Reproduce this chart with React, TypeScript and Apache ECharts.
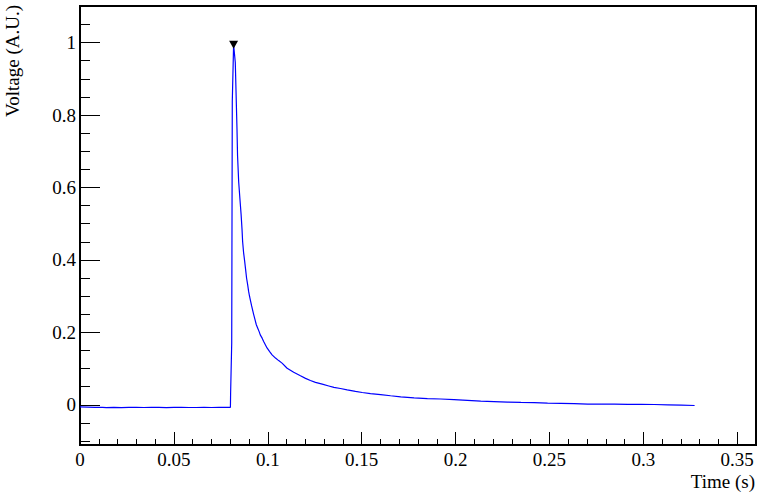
import React, { useEffect, useRef } from "react";
import * as echarts from "echarts";

// Time (s) of each sample
const times = [
  0.0, 0.004, 0.008, 0.012, 0.014, 0.018, 0.022, 0.026, 0.03, 0.034, 0.038, 0.042, 0.046, 0.05,
  0.054, 0.058, 0.062, 0.066, 0.07, 0.074, 0.078, 0.0801,
  0.0802, 0.0808, 0.0811, 0.0818,
  0.0827, 0.0832, 0.0836, 0.0839, 0.0845, 0.0852, 0.0858, 0.0863, 0.0866, 0.0871, 0.0877, 0.0882,
  0.0887, 0.0893, 0.0898, 0.0903, 0.0909, 0.0914, 0.0919, 0.0925, 0.0932, 0.0939, 0.0946, 0.0954,
  0.096, 0.097, 0.0978, 0.0987, 0.0996, 0.101, 0.1023, 0.1041, 0.1058, 0.1076, 0.1103, 0.1138,
  0.1174, 0.1201, 0.1227, 0.1254, 0.129, 0.1325, 0.1352, 0.1387, 0.1423, 0.1467, 0.1503, 0.1547,
  0.1601, 0.1654, 0.1708, 0.1779, 0.185, 0.1921, 0.1992, 0.2063, 0.2134, 0.2205, 0.2277, 0.2348,
  0.2419, 0.249, 0.2561, 0.2632, 0.2704, 0.2775, 0.2846, 0.2917, 0.2988, 0.3059, 0.3131, 0.3202,
  0.3273,
];

// Voltage (A.U.) of each sample
const voltages = [
  -0.006, -0.0065, -0.007, -0.007, -0.008, -0.007, -0.008, -0.007, -0.007, -0.0075, -0.007, -0.007,
  -0.008, -0.007, -0.007, -0.0075, -0.0075, -0.007, -0.0075, -0.007, -0.007, -0.007,
  0.03, 0.171, 0.838, 0.994,
  0.945, 0.843, 0.762, 0.688, 0.616, 0.566, 0.525, 0.483, 0.451, 0.421, 0.396, 0.373,
  0.35, 0.331, 0.313, 0.299, 0.285, 0.273, 0.262, 0.249, 0.235, 0.221, 0.212, 0.202,
  0.193, 0.184, 0.175, 0.166, 0.157, 0.147, 0.138, 0.129, 0.122, 0.115, 0.101, 0.09,
  0.08, 0.073, 0.067, 0.062, 0.057, 0.052, 0.048, 0.045, 0.041, 0.037, 0.034, 0.031,
  0.028, 0.025, 0.022, 0.019, 0.017, 0.016, 0.014, 0.012, 0.01, 0.009, 0.0075, 0.0065,
  0.006, 0.0046, 0.0038, 0.003, 0.002, 0.0018, 0.0016, 0.001, 0.0009, 0.0008, 0.0, -0.001,
  -0.002,
];

// Peak marker
const peakTime = 0.0818;
const peakVoltage = 0.994;

const xMajorTicks = [0, 0.05, 0.1, 0.15, 0.2, 0.25, 0.3, 0.35];
const xTickLabels = ["0", "0.05", "0.1", "0.15", "0.2", "0.25", "0.3", "0.35"];
const xMinorTicks = [
  0.01, 0.02, 0.03, 0.04, 0.06, 0.07, 0.08, 0.09, 0.11, 0.12, 0.13, 0.14, 0.16, 0.17, 0.18, 0.19,
  0.21, 0.22, 0.23, 0.24, 0.26, 0.27, 0.28, 0.29, 0.31, 0.32, 0.33, 0.34, 0.36,
];
const yMajorTicks = [0, 0.2, 0.4, 0.6, 0.8, 1];
const yTickLabels = ["0", "0.2", "0.4", "0.6", "0.8", "1"];
const yMinorTicks = [
  -0.1, -0.05, 0.05, 0.1, 0.15, 0.25, 0.3, 0.35, 0.45, 0.5, 0.55, 0.65, 0.7, 0.75, 0.85, 0.9,
  0.95, 1.05, 1.1,
];

const X_MIN = 0;
const X_MAX = 0.36;
const Y_MIN = -0.111;
const Y_MAX = 1.101;
const FONT = "Liberation Serif";

export default function App() {
  const ref = useRef<HTMLDivElement>(null);

  useEffect(() => {
    if (!ref.current) return;
    const chart = echarts.init(ref.current, undefined, { renderer: "svg" });

    const labelFor = (ticks: number[], labels: string[]) => (v: number) => {
      for (let i = 0; i < ticks.length; i++) {
        if (Math.abs(ticks[i] - v) < 1e-9) return labels[i];
      }
      return "";
    };

    const data = times.map((t, i) => [t, voltages[i]]);

    chart.setOption({
      animation: false,
      backgroundColor: "#ffffff",
      textStyle: { fontFamily: FONT },
      grid: {
        left: 80,
        right: 8,
        top: 6,
        bottom: 50,
        show: true,
        borderColor: "#000000",
        borderWidth: 2,
        backgroundColor: "transparent",
        containLabel: false,
        outerBoundsMode: "none",
      },
      xAxis: [
        {
          type: "value",
          min: X_MIN,
          max: X_MAX,
          position: "bottom",
          axisLine: { show: true, onZero: false, lineStyle: { color: "#000", width: 2 } },
          axisTick: {
            show: true,
            inside: true,
            length: 13,
            customValues: xMajorTicks,
            lineStyle: { color: "#000", width: 1 },
          },
          axisLabel: {
            show: true,
            customValues: xMajorTicks,
            formatter: labelFor(xMajorTicks, xTickLabels),
            fontFamily: FONT,
            fontSize: 19,
            color: "#000",
            margin: 5,
          },
          splitLine: { show: false },
        },
        {
          type: "value",
          min: X_MIN,
          max: X_MAX,
          position: "bottom",
          axisLine: { show: false, onZero: false },
          axisTick: {
            show: true,
            inside: true,
            length: 6,
            customValues: xMinorTicks,
            lineStyle: { color: "#000", width: 1 },
          },
          axisLabel: { show: false },
          splitLine: { show: false },
        },
      ],
      yAxis: [
        {
          type: "value",
          min: Y_MIN,
          max: Y_MAX,
          position: "left",
          axisLine: { show: true, onZero: false, lineStyle: { color: "#000", width: 2 } },
          axisTick: {
            show: true,
            inside: true,
            length: 20,
            customValues: yMajorTicks,
            lineStyle: { color: "#000", width: 1 },
          },
          axisLabel: {
            show: true,
            customValues: yMajorTicks,
            formatter: labelFor(yMajorTicks, yTickLabels),
            fontFamily: FONT,
            fontSize: 19,
            color: "#000",
            margin: 4,
          },
          splitLine: { show: false },
        },
        {
          type: "value",
          min: Y_MIN,
          max: Y_MAX,
          position: "left",
          axisLine: { show: false, onZero: false },
          axisTick: {
            show: true,
            inside: true,
            length: 10,
            customValues: yMinorTicks,
            lineStyle: { color: "#000", width: 1 },
          },
          axisLabel: { show: false },
          splitLine: { show: false },
        },
      ],
      series: [
        {
          type: "line",
          xAxisIndex: 0,
          yAxisIndex: 0,
          data,
          symbol: "none",
          showSymbol: false,
          lineStyle: { color: "#0000ff", width: 1.2 },
          z: 2,
        },
        {
          type: "scatter",
          xAxisIndex: 0,
          yAxisIndex: 0,
          data: [[peakTime, peakVoltage]],
          symbol: "triangle",
          symbolRotate: 180,
          symbolSize: [9, 8],
          itemStyle: { color: "#000000", opacity: 1 },
          z: 3,
        },
      ],
      graphic: [
        {
          type: "text",
          x: 12,
          y: 5,
          rotation: Math.PI / 2,
          style: {
            text: "Voltage (A.U.)",
            fontFamily: FONT,
            fontSize: 19,
            fill: "#000",
            align: "right",
            verticalAlign: "middle",
          },
        },
        {
          type: "text",
          x: 755,
          y: 481,
          style: {
            text: "Time (s)",
            fontFamily: FONT,
            fontSize: 19,
            fill: "#000",
            align: "right",
            verticalAlign: "middle",
          },
        },
      ],
    });

    return () => chart.dispose();
  }, []);

  return <div ref={ref} style={{ width: 764, height: 495, position: "absolute", left: 0, top: 0 }} />;
}
